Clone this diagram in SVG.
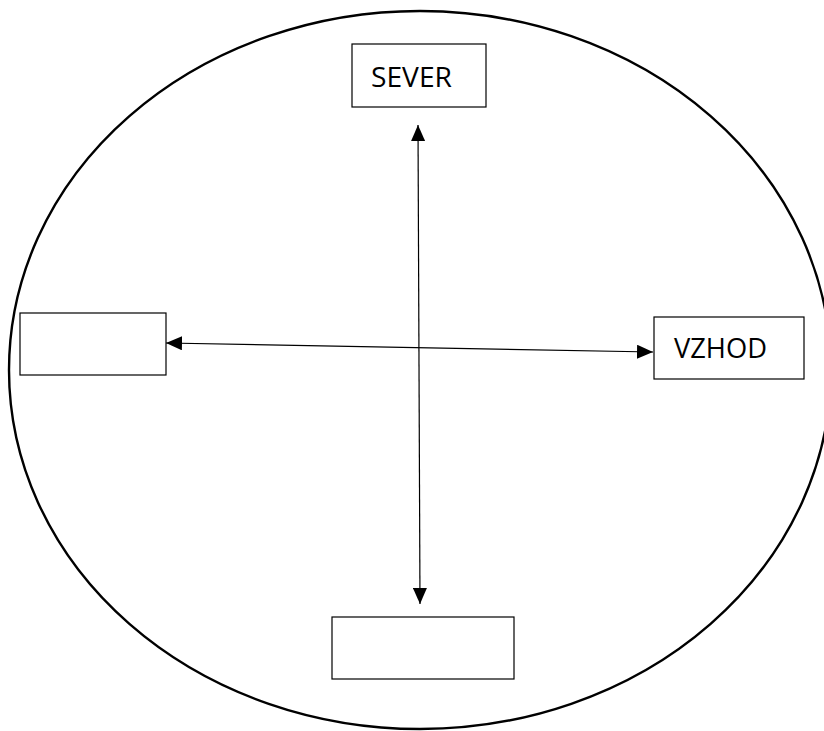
<svg xmlns="http://www.w3.org/2000/svg" width="824" height="731" viewBox="0 0 824 731">
<style>
.box{fill:#fff;stroke:#000;stroke-width:1.2}
.lbl{font-family:"Open Sans","Liberation Sans",sans-serif;font-size:28px;fill:#000}
.conn{stroke:#000;stroke-width:1.2;fill:none}
</style>
<defs>
<marker id="ah" viewBox="0 0 16 14" refX="16" refY="7" markerWidth="16" markerHeight="14" markerUnits="userSpaceOnUse" orient="auto-start-reverse">
<path d="M0,0 L16,7 L0,14 Z" fill="#000"/>
</marker>
</defs>
<rect width="824" height="731" fill="#fff"/>
<ellipse cx="420" cy="370" rx="411" ry="359" fill="none" stroke="#000" stroke-width="2.4"/>
<g id="connectors">
<line class="conn" x1="418" y1="125" x2="420" y2="604" marker-start="url(#ah)" marker-end="url(#ah)"/>
<line class="conn" x1="166" y1="343" x2="653" y2="352" marker-start="url(#ah)" marker-end="url(#ah)"/>
</g>
<g id="sever">
<rect class="box" x="352" y="44" width="134" height="63"/>
<text class="lbl" x="371" y="87" textLength="81" lengthAdjust="spacingAndGlyphs">SEVER</text>
</g>
<g id="zahod">
<rect class="box" x="20" y="313" width="146" height="62"/>
</g>
<g id="vzhod">
<rect class="box" x="654" y="317" width="150" height="62"/>
<text class="lbl" x="674" y="358" textLength="93" lengthAdjust="spacingAndGlyphs">VZHOD</text>
</g>
<g id="jug">
<rect class="box" x="332" y="617" width="182" height="62"/>
</g>
</svg>
